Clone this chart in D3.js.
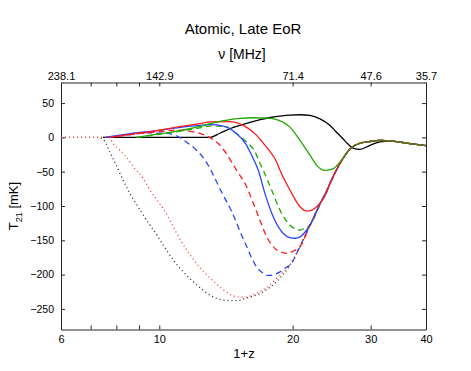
<!DOCTYPE html>
<html lang="en">
<head>
<meta charset="UTF-8">
<title>Atomic, Late EoR</title>
<style>
    body {
        margin: 0;
        padding: 0;
        background-color: #fff;
    }
    svg text {
        font-family: "Liberation Sans", Arial, sans-serif;
        fill: #000;
    }
    .axis path, .axis line {
        stroke: #262626;
        stroke-width: 1;
    }
</style>
</head>
<body>
<svg id="chart" width="471" height="371"></svg>

<script src="https://d3js.org/d3.v7.min.js"></script>
<script>
    // 数据：[1+z, T21 (mK)]
    // curves that merge into one shared low-z tail
    var commonTail = [[19.73, -186], [20.78, -159], [21.89, -128], [23.06, -97], [23.87, -78], [24.29, -67],
        [25.58, -38], [26.95, -17], [28.38, -8.5], [29.9, -6], [31.49, -4.4], [33.17, -5],
        [34.95, -7], [36.81, -9], [40, -12]];

    var blackSolid = [[7.46, 0], [10, 0], [13.02, 0], [13.7, 6], [14.44, 12.6], [15.2, 17.5], [16.02, 22],
        [16.9, 26], [17.78, 29], [18.73, 31], [19.73, 32.5], [20.78, 33], [21.89, 32], [23.06, 27],
        [24.29, 17.4], [25.0, 9], [25.98, -2], [26.6, -9], [27.37, -15.6], [28.38, -17.4],
        [29.9, -11.6], [31.49, -6.5], [33.17, -5.5]];
    var greenSolid = [[8.89, 0], [10, 5], [11.14, 10], [12.36, 16], [13.02, 20], [14.44, 26], [15.2, 27.6],
        [16.3, 28.6], [17.5, 28], [18.41, 26], [19.05, 22], [19.73, 15], [20.25, 6], [20.78, -4.4],
        [21.89, -26], [22.66, -40.7], [23.67, -48], [24.29, -47], [24.71, -45.5], [25.58, -36]];
    var redSolid = [[7.7, 0], [8.59, 4.5], [9.87, 10], [10.95, 15], [12.36, 20], [13.02, 22.5], [14.44, 23],
        [15.48, 17.4], [16.59, 2.9], [17.1, -7], [17.65, -18], [18.41, -36], [18.73, -48], [19.73, -77],
        [20.78, -101], [21.52, -107.5], [22.1, -106], [22.66, -101], [23.87, -80]];
    var blueSolid = [[7.55, 0], [8.59, 5.4], [9.87, 10], [10.95, 14], [12.36, 17.4], [13.02, 18.5],
        [13.95, 16.4], [14.95, 5.4], [15.75, -11.6], [16.02, -21], [16.3, -31], [16.73, -48],
        [17.32, -82], [18.09, -116], [19.05, -140], [19.7, -146], [20.25, -147], [20.78, -145], [21.52, -135]];
    var greenDashed = [[8.89, 0], [10, 4.5], [11.14, 9], [12.36, 14], [13.24, 17], [13.83, 16], [14.2, 15],
        [14.95, 5.4], [15.75, -6.8], [16.45, -21], [16.88, -38], [17.17, -48], [17.94, -77], [18.73, -106],
        [19.73, -128], [20.4, -134], [20.78, -135], [21.3, -132]];
    var redDashed = [[7.7, 0], [8.59, 4], [9.87, 8], [10.95, 10.5], [11.53, 9.5], [12.36, 5.8], [13.24, -3.4],
        [13.71, -11.6], [14.25, -26], [14.69, -40], [14.95, -48], [15.75, -72], [16.3, -96], [16.88, -121],
        [17.48, -145], [18.41, -164], [19.0, -168], [19.39, -169], [19.9, -167], [20.43, -163]];
    var blueDashed = [[7.6, 0], [8.59, 4], [9.37, 6.5], [10.39, 5.8], [10.95, 2], [11.53, -7], [12.15, -19],
        [12.68, -33], [13.13, -50], [13.48, -65], [13.83, -80], [14.2, -94], [14.57, -108], [14.95, -125],
        [15.35, -143], [15.75, -159], [16.17, -176], [16.59, -189], [17.17, -198], [17.48, -201],
        [17.78, -201], [18.73, -196], [19.4, -189]];
    var blackDotted = [[6, 0], [7.3, 0], [7.54, -6], [7.74, -22], [8.03, -43], [8.28, -62], [8.68, -87],
        [9.05, -106], [9.53, -128], [9.78, -138], [10.0, -148], [10.21, -157], [10.76, -179], [11.33, -196],
        [12.15, -215], [13.02, -230], [13.95, -237], [14.95, -238], [15.75, -234], [17.17, -225], [18.41, -210]];
    var redDotted = [[6, 0], [7.7, 0], [7.87, -9], [8.15, -19], [8.44, -29], [8.74, -43], [9.2, -60],
        [9.53, -77], [9.95, -94], [10.21, -104], [10.57, -121], [10.95, -140], [11.5, -163], [12.15, -184],
        [13.02, -205], [13.95, -222], [14.69, -231], [15.48, -233], [16.59, -227], [17.78, -215], [18.73, -200]];

    // 坐标轴刻度
    var xTicks = [6, 7, 8, 9, 10, 20, 30, 40];
    var xTickLabels = ["6", "", "", "", "10", "20", "30", "40"];
    var nuTickLabels = ["238.1", "", "", "", "142.9", "71.4", "47.6", "35.7"];
    var yTicks = [50, 0, -50, -100, -150, -200, -250];

    var series = [
        { pts: blackSolid, color: "#000000", dash: null },
        { pts: blueDashed, color: "#2846ff", dash: "6,4" },
        { pts: redDashed, color: "#ff1a1a", dash: "6,4" },
        { pts: greenDashed, color: "#22a800", dash: "6,4" },
        { pts: blueSolid, color: "#2846ff", dash: null },
        { pts: redSolid, color: "#ff1a1a", dash: null },
        { pts: greenSolid, color: "#22a800", dash: null },
        { pts: blackDotted, color: "#222222", dash: "1,3" },
        { pts: redDotted, color: "#ff3030", dash: "1,3" }
    ];

    var mLeft = 61, mRight = 426, mTop = 82.5, mBottom = 329.5;
    var svg = d3.select("#chart");

    var xScale = d3.scaleLog().domain([6, 40]).range([mLeft, mRight]);
    var yScale = d3.scaleLinear().domain([-280, 80]).range([mBottom, mTop]);

    // 底部 x 轴
    svg.append("g")
        .attr("class", "axis")
        .attr("transform", "translate(0," + mBottom + ")")
        .call(d3.axisBottom(xScale).tickValues(xTicks)
            .tickFormat(function (d, i) { return xTickLabels[i]; })
            .tickSizeInner(-4).tickSizeOuter(0).tickPadding(6))
        .selectAll("text").style("font-size", "11px");

    // 顶部 ν 轴
    svg.append("g")
        .attr("class", "axis")
        .attr("transform", "translate(0," + mTop + ")")
        .call(d3.axisTop(xScale).tickValues(xTicks)
            .tickFormat(function (d, i) { return nuTickLabels[i]; })
            .tickSizeInner(-4).tickSizeOuter(0).tickPadding(3))
        .selectAll("text").style("font-size", "11px");

    // 左侧 y 轴
    svg.append("g")
        .attr("class", "axis")
        .attr("transform", "translate(" + mLeft + ",0)")
        .call(d3.axisLeft(yScale).tickValues(yTicks)
            .tickSizeInner(-4).tickSizeOuter(0).tickPadding(7))
        .selectAll("text").style("font-size", "10.5px");

    // 右侧 y 轴（无标签）
    svg.append("g")
        .attr("class", "axis")
        .attr("transform", "translate(" + mRight + ",0)")
        .call(d3.axisRight(yScale).tickValues(yTicks).tickFormat("")
            .tickSizeInner(-4).tickSizeOuter(0));

    // 画线
    var line = d3.line()
        .x(function (d) { return xScale(d[0]); })
        .y(function (d) { return yScale(d[1]); })
        .curve(d3.curveMonotoneX);

    var plot = svg.append("g");
    series.forEach(function (s) {
        var last = s.pts[s.pts.length - 1][0];
        var full = s.pts.concat(commonTail.filter(function (d) { return d[0] > last; }));
        plot.append("path")
            .datum(full)
            .attr("d", line)
            .attr("fill", "none")
            .attr("stroke", s.color)
            .attr("stroke-width", 1.3)
            .attr("stroke-dasharray", s.dash);
    });

    // 标题与轴标签
    svg.append("text")
        .attr("x", 243).attr("y", 34)
        .attr("text-anchor", "middle")
        .style("font-size", "15px")
        .text("Atomic, Late EoR");

    svg.append("text")
        .attr("x", 242).attr("y", 59)
        .attr("text-anchor", "middle")
        .style("font-size", "14px")
        .text("ν [MHz]");

    svg.append("text")
        .attr("x", 244).attr("y", 358)
        .attr("text-anchor", "middle")
        .style("font-size", "13px")
        .text("1+z");

    var yLabel = svg.append("text")
        .attr("transform", "translate(18," + ((mTop + mBottom) / 2) + ") rotate(-90)")
        .attr("text-anchor", "middle")
        .style("font-size", "13px");
    yLabel.append("tspan").text("T");
    yLabel.append("tspan").attr("dy", 4).style("font-size", "9px").text("21");
    yLabel.append("tspan").attr("dy", -4).text(" [mK]");
</script>
</body>
</html>
